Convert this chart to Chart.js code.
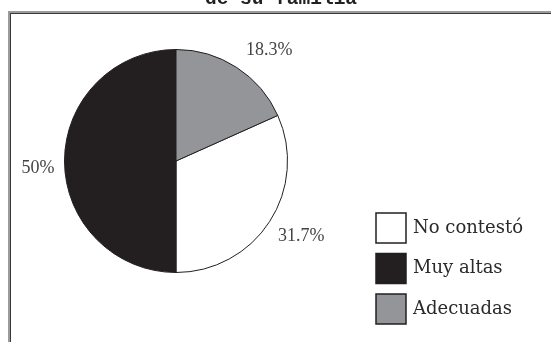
<!DOCTYPE html>
<html>
<head>
<meta charset="utf-8">
<script src="https://cdn.jsdelivr.net/npm/chart.js@4.4.1/dist/chart.umd.min.js"></script>
<style>
  html, body { margin: 0; padding: 0; background: #fff; overflow: hidden; }
  #wrap { position: relative; width: 551px; height: 342px; }
  #marco {
    position: absolute; left: 8px; top: 11px; width: 600px; height: 400px;
    border: 2px solid #9b9b9b; box-shadow: inset 1px 1px 0 #3a3a3a;
  }
  #grafico { position: absolute; left: 0; top: 0; }
</style>
</head>
<body>
<div id="wrap">
  <div id="marco"></div>
  <canvas id="grafico" width="551" height="342"></canvas>
</div>
<script>
// respuestas en el orden de la leyenda
const categorias = ["No contestó", "Muy altas", "Adecuadas"];
const porcentajes = [31.7, 50, 18.3];
const colores = ["#ffffff", "#231f20", "#939598"];
const titulo = "de su familia";

// la porción "Adecuadas" arranca arriba; el resto sigue en sentido horario
const giro = porcentajes[2] / 100 * 360;

const etiquetasPie = {
  id: "etiquetasPie",
  afterDatasetsDraw(chart) {
    const ctx = chart.ctx;
    const arcos = chart.getDatasetMeta(0).data;
    ctx.save();
    ctx.font = "18px 'Liberation Serif'";
    ctx.fillStyle = "#444";
    arcos.forEach((arc, i) => {
      const medio = (arc.startAngle + arc.endAngle) / 2;
      const r = arc.outerRadius + 10;
      const px = arc.x + Math.cos(medio) * r;
      const py = arc.y + Math.sin(medio) * r;
      const c = Math.cos(medio), s = Math.sin(medio);
      const lado = Math.abs(s) < 0.3;
      ctx.textAlign = c >= 0 ? "left" : "right";
      if (lado) ctx.textBaseline = "middle";
      else ctx.textBaseline = s < 0 ? "bottom" : "top";
      ctx.fillText(porcentajes[i] + "%", px + (c > 0 && s < 0 ? 4 : 0), py + (lado ? 7 : 0));
    });
    ctx.restore();
  }
};

const leyendaCajas = {
  id: "leyendaCajas",
  afterDraw(chart) {
    const ctx = chart.ctx;
    const ds = chart.data.datasets[0];
    ctx.save();
    // titulo (solo asoma la parte de abajo)
    ctx.font = "bold 19.5px 'Liberation Mono'";
    ctx.fillStyle = "#222";
    ctx.textAlign = "center";
    ctx.textBaseline = "alphabetic";
    ctx.fillText(titulo, 281, 4);

    ctx.font = "18px 'DejaVu Serif'";
    ctx.textAlign = "left";
    ctx.textBaseline = "middle";
    chart.data.labels.forEach((lab, i) => {
      const y = 213 + i * 40.5;
      ctx.fillStyle = ds.backgroundColor[i];
      ctx.fillRect(376, y, 30, 30);
      ctx.strokeStyle = "#231f20";
      ctx.lineWidth = 1.5;
      ctx.strokeRect(376, y, 30, 30);
      ctx.fillStyle = "#2a2a2a";
      ctx.fillText(lab, 413, y + 15);
    });
    ctx.restore();
  }
};

new Chart(document.getElementById("grafico"), {
  type: "pie",
  data: {
    labels: categorias,
    datasets: [{
      data: porcentajes,
      backgroundColor: colores,
      borderColor: "#231f20",
      borderWidth: 1
    }]
  },
  options: {
    responsive: false,
    animation: false,
    rotation: giro,
    layout: { padding: { left: 64, right: 263, top: 49, bottom: 69 } },
    plugins: {
      legend: { display: false },
      tooltip: { enabled: false }
    }
  },
  plugins: [etiquetasPie, leyendaCajas]
});
</script>
</body>
</html>
